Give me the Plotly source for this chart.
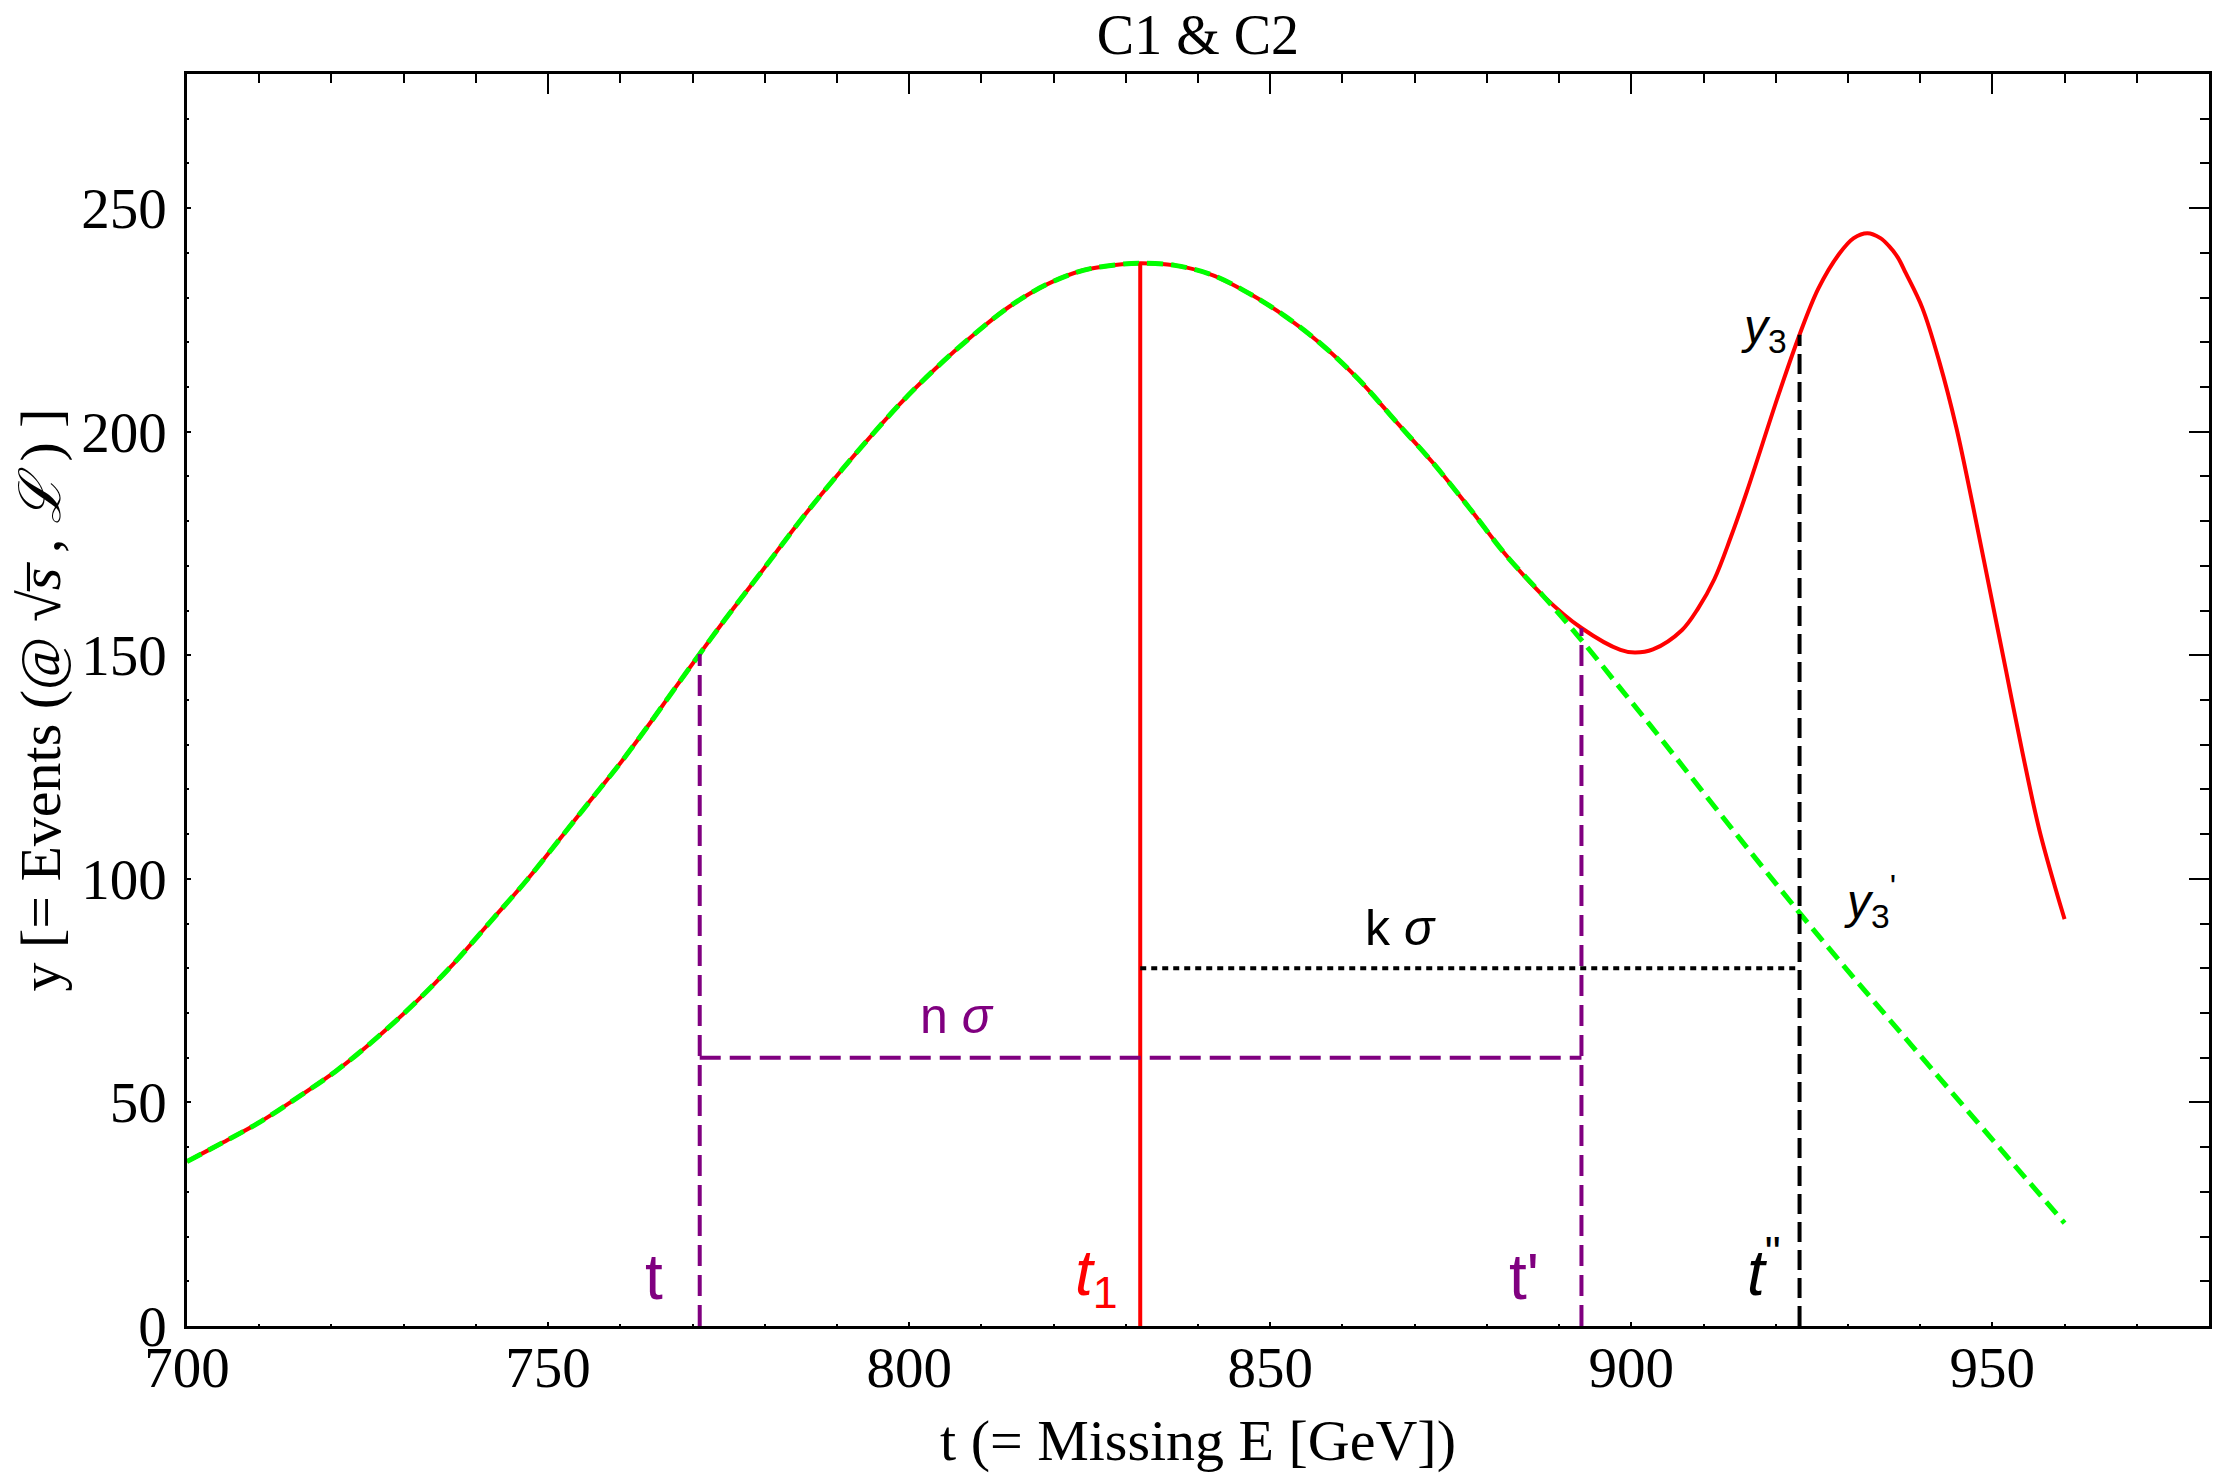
import plotly.graph_objects as go

# part of the curve where signal and background coincide
t_shared = [700, 704.8, 710.2, 715.6, 720.7, 726.1, 731.8, 736.9, 742, 747.1, 752.2,
            756.1, 760.2, 763.7, 767.2, 771, 774.5, 779, 785.5, 790.7, 798.6, 803.7,
            808.8, 813.9, 819, 824.1, 828.5, 832, 836.8, 841.9, 847, 852.1, 857.2,
            862.3, 867.4, 872.5, 877.6, 882.7, 887.8]
y_shared = [36.8, 40.9, 45.7, 51.4, 57.1, 64.2, 72.6, 81, 90.4, 99.8, 110.1,
            118, 126.3, 133.9, 141.8, 150.3, 158, 167.5, 181.3, 191.5, 206, 214.2,
            221.5, 228, 232.9, 236.1, 237.3, 237.7, 237.2, 235.1, 231, 225.8, 219.4,
            211.6, 202.3, 193.1, 182.9, 172.3, 163.3]

# signal + background after the split (red)
t_signal_tail = [893.1, 898.5, 900.5, 903, 907, 909.3, 911.5, 913.8, 916, 920.5, 923.3,
                 925.9, 928.8, 930.8, 932.7, 934.5, 935.7, 936.9, 938, 940.3, 942.7,
                 945, 947.3, 949.6, 951.9, 954.2, 956.5, 958.8, 960]
y_signal_tail = [156.1, 151.2, 150.6, 151.3, 155.6, 160.6, 167, 176.5, 186.6, 208.8, 221.7,
                 232, 239.8, 243.3, 244.4, 243.3, 241.5, 239, 235.5, 227.7, 215.4,
                 201, 183.5, 165, 146.5, 128, 111, 97.5, 91]

# background only after the split (green dashed)
t_bg_tail = [893.1, 898.5, 902.5, 923.3, 941.6, 960]
y_bg_tail = [153.4, 142.6, 134.6, 92.4, 57.5, 23]

# marked positions
t_low, y_low = 771, 150.3            # t
t_peak, y_peak = 832, 237.7          # t1
t_high, y_high = 893.1, 156.1        # t'
t_far, y3, y3_prime = 923.3, 221.7, 92.4   # t''
n_sigma_level = 60
k_sigma_level = 80

x_range = [700, 980]
y_range = [0, 280]

RED = "#ff0000"
GREEN = "#00ff00"
PURPLE = "#800080"
SERIF = "Liberation Serif, Times New Roman, serif"
SANS = "Liberation Sans, Arial, sans-serif"

fig = go.Figure()

# signal curve
fig.add_trace(go.Scatter(x=t_shared + t_signal_tail, y=y_shared + y_signal_tail,
                         mode="lines", line_shape="spline",
                         line=dict(color=RED, width=4), hoverinfo="skip"))
# background curve
fig.add_trace(go.Scatter(x=t_shared + t_bg_tail, y=y_shared + y_bg_tail,
                         mode="lines", line_shape="spline",
                         line=dict(color=GREEN, width=5, dash="16px,8px"), hoverinfo="skip"))

# t1 marker
fig.add_trace(go.Scatter(x=[t_peak, t_peak], y=[0, y_peak], mode="lines",
                         line=dict(color=RED, width=4), hoverinfo="skip"))
# t and t' markers, n sigma span
purple_dash = dict(color=PURPLE, width=4, dash="21px,9px")
fig.add_trace(go.Scatter(x=[t_low, t_low], y=[0, y_low], mode="lines",
                         line=purple_dash, hoverinfo="skip"))
fig.add_trace(go.Scatter(x=[t_high, t_high], y=[0, y_high], mode="lines",
                         line=purple_dash, hoverinfo="skip"))
fig.add_trace(go.Scatter(x=[t_low, t_high], y=[n_sigma_level, n_sigma_level], mode="lines",
                         line=purple_dash, hoverinfo="skip"))
# k sigma span and t''
fig.add_trace(go.Scatter(x=[t_peak, t_far], y=[k_sigma_level, k_sigma_level], mode="lines",
                         line=dict(color="black", width=4, dash="6px,5px"), hoverinfo="skip"))
fig.add_trace(go.Scatter(x=[t_far, t_far], y=[0, y3], mode="lines",
                         line=dict(color="black", width=4, dash="20px,8px"), hoverinfo="skip"))

# invisible trace so the top/right tick axes get drawn
fig.add_trace(go.Scatter(x=x_range, y=y_range, xaxis="x2", yaxis="y2", mode="markers",
                         marker=dict(opacity=0), hoverinfo="skip"))

labels = [
    (764.6, 11, "t", PURPLE, 64),
    (826, 11, "<i>t</i><sub>1</sub>", RED, 64),
    (885.1, 11, "t'", PURPLE, 64),
    (918.4, 13, "<i>t</i><sup>\"</sup>", "black", 64),
    (806.6, 69.4, "n <i>σ</i>", PURPLE, 50),
    (868, 89, "k <i>σ</i>", "black", 50),
    (918.4, 222.8, "<i>y</i><sub>3</sub>", "black", 48),
    (933, 95, "<i>y</i><sub>3</sub><sup>'</sup>", "black", 48),
]
for x, y, text, color, size in labels:
    fig.add_annotation(x=x, y=y, text=text, showarrow=False, xanchor="center", yanchor="middle",
                       font=dict(family=SANS, size=size, color=color))

tick_font = dict(family=SERIF, size=57, color="black")
title_font = dict(family=SERIF, size=58, color="black")
short_minor = dict(ticks="inside", dtick=10, ticklen=2, tickwidth=1.5, tickcolor="black")
long_minor = dict(ticks="inside", dtick=10, ticklen=9, tickwidth=1.5, tickcolor="black")

fig.update_layout(
    width=2214, height=1472,
    margin=dict(l=179, r=10, t=66, b=154),
    plot_bgcolor="white", paper_bgcolor="white",
    showlegend=False,
    title=dict(text="C1 & C2", x=0.5, xref="paper", xanchor="center",
               y=1 - 26 / 1472, yanchor="middle",
               font=dict(family=SERIF, size=56, color="black")),
    xaxis=dict(range=x_range, showgrid=False, zeroline=False, tick0=700, dtick=50,
               ticks="inside", ticklen=4, tickwidth=2, tickcolor="black", minor=short_minor,
               showline=True, linewidth=2.5, linecolor="black", mirror=True,
               tickfont=tick_font, ticklabelstandoff=-10,
               title=dict(text="t (= Missing E [GeV])", standoff=22, font=title_font)),
    yaxis=dict(range=y_range, showgrid=False, zeroline=False, tick0=0, dtick=50,
               ticks="inside", ticklen=4, tickwidth=2, tickcolor="black", minor=short_minor,
               showline=True, linewidth=2.5, linecolor="black", mirror=True,
               tickfont=tick_font, ticklabelstandoff=6,
               title=dict(text="y [= Events (@ √<i>s̅</i> , <i>ℒ</i> ) ]", standoff=12,
                          font=title_font)),
    # longer ticks on top and right edges
    xaxis2=dict(range=x_range, overlaying="x", side="top", anchor="y", showgrid=False,
                zeroline=False, tick0=700, dtick=50, ticks="inside", ticklen=20, tickwidth=2,
                tickcolor="black", showticklabels=False, minor=long_minor,
                showline=True, linewidth=2.5, linecolor="black"),
    yaxis2=dict(range=y_range, overlaying="y", side="right", anchor="x", showgrid=False,
                zeroline=False, tick0=0, dtick=50, ticks="inside", ticklen=20, tickwidth=2,
                tickcolor="black", showticklabels=False, minor=long_minor,
                showline=True, linewidth=2.5, linecolor="black"),
)

fig.write_html("out.html")
